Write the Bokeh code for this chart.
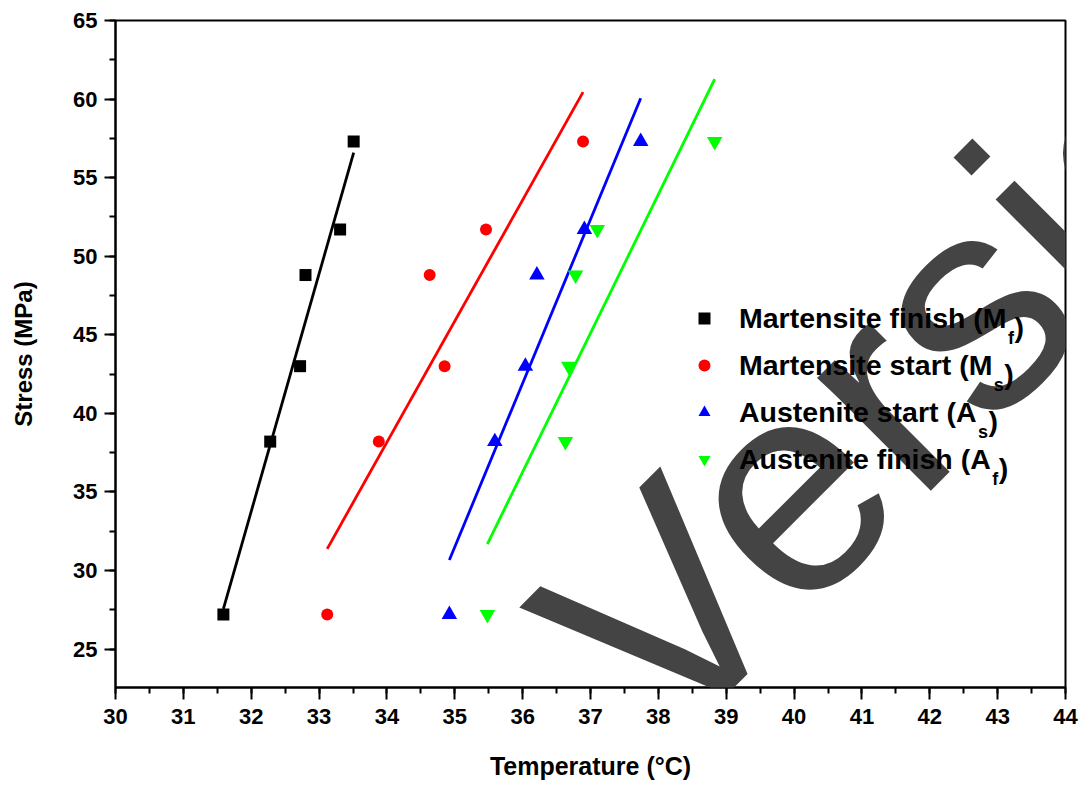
import numpy as np
from bokeh.plotting import figure
from bokeh.models import FixedTicker, Legend, LegendItem, Label
from bokeh.embed import file_html
from bokeh.resources import INLINE

# ---------------- data ----------------
stress_mpa = [27.2, 38.2, 43.0, 48.8, 51.7, 57.3]
temp_mf = [31.59, 32.28, 32.72, 32.80, 33.31, 33.51]
temp_ms = [33.12, 33.88, 34.85, 34.63, 35.46, 36.89]
temp_as = [34.92, 35.59, 36.04, 36.21, 36.91, 37.74]
temp_af = [35.48, 36.63, 36.68, 36.78, 37.10, 38.83]

series_temps = [temp_mf, temp_ms, temp_as, temp_af]
series_labels = ["Martensite finish (M", "Martensite start (M",
                 "Austenite start (A", "Austenite finish (A"]
series_subs = ["f", "s", "s", "f"]
series_colors = ["#000000", "#FF0000", "#0000FF", "#00FF00"]
series_markers = ["square", "circle", "triangle", "inverted_triangle"]
series_sizes = [12, 12, 15.5, 15.5]

x_ticks = list(range(30, 45))
x_minor = [30 + 0.5 * i for i in range(29)]
y_ticks = list(range(25, 66, 5))
y_minor = [25 + 2.5 * i for i in range(17)]

FONT = "Liberation Sans"

# ---------------- figure ----------------
W, H = 1082, 785
BL, BR, BT, BB = 115, 17, 20, 98
p = figure(width=W, height=H, x_range=(30, 44), y_range=(22.55, 65),
           output_backend="svg", toolbar_location=None,
           min_border_left=BL, min_border_right=BR,
           min_border_top=BT, min_border_bottom=BB)
p.xgrid.visible = False
p.ygrid.visible = False
p.outline_line_color = "black"
p.outline_line_width = 2
p.outline_line_alpha = 1
p.background_fill_color = "white"
p.border_fill_color = "white"

p.xaxis.ticker = FixedTicker(ticks=x_ticks, minor_ticks=x_minor)
p.yaxis.ticker = FixedTicker(ticks=y_ticks, minor_ticks=y_minor)
for ax in (p.xaxis[0], p.yaxis[0]):
    ax.axis_line_width = 2
    ax.major_tick_line_width = 2
    ax.minor_tick_line_width = 2
    ax.major_tick_in = 0
    ax.minor_tick_in = 0
    ax.minor_tick_out = 6
    ax.major_label_text_font = FONT
    ax.major_label_text_font_style = "bold"
    ax.major_label_text_font_size = "22px"
    ax.major_label_text_color = "black"
    ax.axis_label_text_font = FONT
    ax.axis_label_text_font_style = "bold"
    ax.axis_label_text_color = "black"

p.xaxis.major_tick_out = 12
p.yaxis.major_tick_out = 11
p.xaxis.major_label_standoff = 9
p.yaxis.major_label_standoff = 7
p.xaxis.axis_label = "Temperature (°C)"
p.yaxis.axis_label = "Stress (MPa)"
p.xaxis.axis_label_text_font_size = "25px"
p.yaxis.axis_label_text_font_size = "24px"
p.xaxis.axis_label_standoff = 25
p.yaxis.axis_label_standoff = 33

# ---------------- data + fits ----------------
scatter_renderers = []
for temps, col, mk, sz in zip(series_temps, series_colors, series_markers, series_sizes):
    t = np.array(temps)
    s = np.array(stress_mpa)
    k, b = np.polyfit(t, s, 1)
    xs = np.array([t.min(), t.max()])
    p.line(xs, k * xs + b, line_color=col, line_width=2.8)
    r = p.scatter(temps, stress_mpa, marker=mk, size=sz, fill_color=col,
                  line_color=col, line_width=0)
    scatter_renderers.append(r)

# ---------------- watermark ----------------
wm = Label(x=476, y=6, x_units="screen", y_units="screen",
           text="Version", angle=np.pi / 4, text_font=FONT,
           text_font_size="303px", text_color="#444444",
           text_baseline="alphabetic", text_align="left")
p.add_layout(wm)

# ---------------- legend ----------------
LEG_X, LEG_Y = 574, 206
GLYPH_W, ROW_H, SPACING, STANDOFF = 30, 44, 3, 20
LEG_FS = 28.5
legend = Legend(items=[LegendItem(label=lab, renderers=[r])
                       for lab, r in zip(series_labels, scatter_renderers)],
                location=(LEG_X, LEG_Y), orientation="vertical",
                padding=0, margin=0, spacing=SPACING,
                glyph_width=GLYPH_W, glyph_height=ROW_H, label_height=ROW_H,
                label_standoff=STANDOFF,
                label_text_font=FONT, label_text_font_style="bold",
                label_text_font_size=f"{LEG_FS}px", label_text_color="black",
                border_line_alpha=0, background_fill_alpha=0)
p.add_layout(legend, "center")

# Arial-bold advance widths (em) used to place the subscripts after the labels
ADV = {"M": .833, "a": .556, "r": .389, "t": .333, "e": .556, "n": .611,
       "s": .556, "i": .278, "f": .333, "h": .611, " ": .278, "(": .333,
       ")": .333, "A": .722, "u": .611}


def text_w(txt, fs):
    return sum(ADV.get(c, .556) for c in txt) * fs


SUB_FS = 18
n = len(series_labels)
leg_h = n * ROW_H + (n - 1) * SPACING
text_x0 = LEG_X + GLYPH_W + STANDOFF
for i, (lab, sub) in enumerate(zip(series_labels, series_subs)):
    cy = LEG_Y + leg_h - ROW_H / 2 - i * (ROW_H + SPACING)  # from frame bottom
    base = cy - 0.31 * LEG_FS
    xs = text_x0 + text_w(lab, LEG_FS) + 1
    p.add_layout(Label(x=xs, y=base - 11, x_units="screen", y_units="screen",
                       text=sub, text_font=FONT, text_font_style="bold",
                       text_font_size=f"{SUB_FS}px", text_color="black",
                       text_baseline="alphabetic", text_align="left"))
    p.add_layout(Label(x=xs + text_w(sub, SUB_FS) + 0.5, y=base,
                       x_units="screen", y_units="screen",
                       text=")", text_font=FONT, text_font_style="bold",
                       text_font_size=f"{LEG_FS}px", text_color="black",
                       text_baseline="alphabetic", text_align="left"))

open("out.html", "w").write(file_html(p, INLINE))
